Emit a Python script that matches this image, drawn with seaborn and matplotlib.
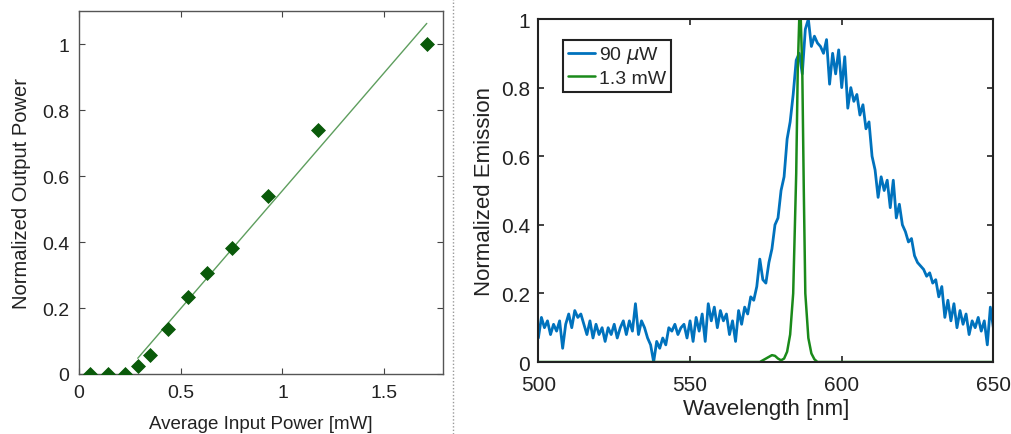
import numpy as np
import pandas as pd
import matplotlib.pyplot as plt
import seaborn as sns
from matplotlib.lines import Line2D

# left panel: output vs input power
in_power = [0.054, 0.144, 0.227, 0.289, 0.348, 0.437, 0.534, 0.631, 0.752, 0.929, 1.176, 1.709]
out_power = [0.0, 0.0, 0.0, 0.025, 0.058, 0.136, 0.234, 0.306, 0.382, 0.541, 0.741, 1.0]
fit_slope = 0.715
fit_intercept = -0.159
fit_range = [0.289, 1.709]

# right panel: emission spectra
wl_start, wl_stop = 500, 650
em_90uW = [0.07, 0.13, 0.10, 0.12, 0.08, 0.11, 0.09, 0.12, 0.04, 0.11,
           0.14, 0.10, 0.15, 0.13, 0.14, 0.11, 0.08, 0.12, 0.07, 0.11,
           0.08, 0.10, 0.06, 0.10, 0.08, 0.11, 0.07, 0.10, 0.12, 0.08,
           0.12, 0.09, 0.17, 0.08, 0.12, 0.10, 0.07, 0.05, 0.00, 0.06,
           0.04, 0.07, 0.05, 0.10, 0.09, 0.11, 0.08, 0.10, 0.11, 0.07,
           0.12, 0.06, 0.13, 0.09, 0.14, 0.06, 0.17, 0.12, 0.16, 0.10,
           0.15, 0.12, 0.14, 0.08, 0.12, 0.06, 0.15, 0.11, 0.16, 0.14,
           0.19, 0.18, 0.22, 0.30, 0.24, 0.23, 0.29, 0.33, 0.40, 0.42,
           0.50, 0.54, 0.65, 0.70, 0.78, 0.88, 0.90, 0.84, 0.97, 1.00,
           0.92, 0.95, 0.93, 0.92, 0.90, 0.94, 0.81, 0.90, 0.84, 0.91,
           0.80, 0.89, 0.74, 0.80, 0.76, 0.78, 0.72, 0.75, 0.68, 0.70,
           0.60, 0.56, 0.48, 0.54, 0.50, 0.53, 0.45, 0.53, 0.42, 0.46,
           0.40, 0.38, 0.35, 0.36, 0.31, 0.29, 0.28, 0.27, 0.25, 0.26,
           0.23, 0.24, 0.19, 0.22, 0.13, 0.18, 0.12, 0.17, 0.10, 0.15,
           0.11, 0.14, 0.08, 0.12, 0.10, 0.13, 0.09, 0.12, 0.05, 0.16,
           0.10]
wl_1p3mW = [500, 573, 575, 577, 578, 579, 580, 581, 582, 583, 584, 585,
            585.5, 586, 586.5, 587, 587.5, 588, 589, 590, 591, 592, 650]
em_1p3mW = [0, 0, 0.01, 0.02, 0.018, 0.01, 0.005, 0.01, 0.03, 0.08, 0.20, 0.55,
            0.85, 1.0, 1.0, 0.85, 0.50, 0.20, 0.07, 0.025, 0.008, 0, 0]
labels = ["90 $\\mu$W", "1.3 mW"]

sns.set_style("ticks")
plt.rcParams['font.family'] = ['Liberation Sans', 'DejaVu Sans']
plt.rcParams['mathtext.fontset'] = 'dejavusans'

fig = plt.figure(figsize=(10.12, 4.35), dpi=100)
axL = fig.add_axes([0.078, 0.138, 0.360, 0.834])
axR = fig.add_axes([0.532, 0.1655, 0.4496, 0.7885])

# ---- left
fitX = np.array(fit_range)
sns.lineplot(x=fitX, y=fit_slope * fitX + fit_intercept, ax=axL, color="#5e9e5e", lw=1.0)
sns.scatterplot(x=in_power, y=out_power, ax=axL, marker="D", s=50, color="#0a5a0a", edgecolor="#0a5a0a", zorder=3)
axL.set_xlim(0, 1.79)
axL.set_ylim(0, 1.1)
axL.set_xticks([0, 0.5, 1, 1.5])
axL.set_xticklabels(["0", "0.5", "1", "1.5"])
axL.set_yticks([0, 0.2, 0.4, 0.6, 0.8, 1])
axL.set_yticklabels(["0", "0.2", "0.4", "0.6", "0.8", "1"])
axL.tick_params(direction="in", top=True, right=True, labelsize=14, colors="#444444", labelcolor="#222222", length=4, pad=7)
for s in axL.spines.values():
    s.set_color("#555555")
    s.set_linewidth(1.0)
axL.set_xlabel("Average Input Power [mW]", fontsize=13.5, labelpad=10, color="#222222")
axL.set_ylabel("Normalized Output Power", fontsize=14.5, labelpad=8, color="#222222")

# ---- right
wl = np.arange(wl_start, wl_stop + 1)
sns.lineplot(x=wl, y=em_90uW, ax=axR, color="#0072BD", lw=2.0, label=labels[0])
sns.lineplot(x=wl_1p3mW, y=em_1p3mW, ax=axR, color="#1a8a1a", lw=1.8, label=labels[1])
axR.set_xlim(500, 650)
axR.set_ylim(0, 1)
axR.set_xticks([500, 550, 600, 650])
axR.set_yticks([0, 0.2, 0.4, 0.6, 0.8, 1])
axR.set_yticklabels(["0", "0.2", "0.4", "0.6", "0.8", "1"])
axR.tick_params(direction="in", top=True, right=True, labelsize=15, colors="#222222", length=4, width=1.2)
axR.tick_params(axis="x", pad=9)
axR.tick_params(axis="y", pad=6)
for s in axR.spines.values():
    s.set_color("#222222")
    s.set_linewidth(1.5)
axR.set_xlabel("Wavelength [nm]", fontsize=16, labelpad=3, color="#222222")
axR.set_ylabel("Normalized Emission", fontsize=16, labelpad=4, color="#222222")
leg = axR.legend(loc="upper left", bbox_to_anchor=(0.055, 0.94), borderaxespad=0, fontsize=14, handlelength=1.4,
                 handletextpad=0.2, borderpad=0.25, labelspacing=0.2, fancybox=False, framealpha=1)
leg.get_frame().set_edgecolor("#222222")
leg.get_frame().set_linewidth(1.5)

# separator
fig.add_artist(Line2D([0.448, 0.448], [0.0, 1.0], transform=fig.transFigure, color="#999999", lw=1.0, ls=(0, (1, 1.5))))

fig.savefig("out.png", dpi=100)
